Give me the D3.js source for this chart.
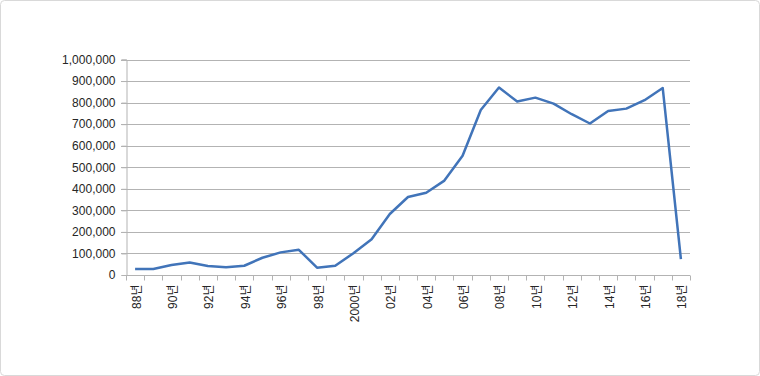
<!DOCTYPE html>
<html><head><meta charset="utf-8">
<script src="https://cdn.jsdelivr.net/npm/d3@7"></script>
<style>body{margin:0;background:#fff}svg{display:block}</style>
</head><body>
<svg id="c" width="760" height="376"></svg>
<script>
const years = ["88년","89년","90년","91년","92년","93년","94년","95년","96년","97년","98년","99년","2000년","01년","02년","03년","04년","05년","06년","07년","08년","09년","10년","11년","12년","13년","14년","15년","16년","17년","18년"];
const values = [28000,28000,46000,58000,42000,36000,43000,80000,105000,117000,34000,43000,101000,166000,283000,362000,382000,438000,553000,766000,870000,805000,823000,795000,746000,703000,761000,772000,811000,868000,74000];
const yTicks = [0,100000,200000,300000,400000,500000,600000,700000,800000,900000,1000000];

const svg = d3.select("#c");
svg.append("rect").attr("x",0.5).attr("y",0.5).attr("width",759).attr("height",375)
  .attr("rx",4).attr("fill","#fff").attr("stroke","#d9d9d9");

const L=126, R=690, T=59.5, B=275;
const x = d3.scaleBand().domain(years).range([L,R]);
const y = d3.scaleLinear().domain([0,1000000]).range([B,T]);
const FONT = "'Liberation Sans', Arial, 'Noto Sans CJK KR', sans-serif";

svg.append("g").selectAll("line").data(yTicks.slice(1)).join("line")
  .attr("x1",L-5).attr("x2",R).attr("y1",d=>Math.round(y(d))+0.5).attr("y2",d=>Math.round(y(d))+0.5)
  .attr("stroke","#b3b3b3").attr("stroke-width",1);

const yAxis = d3.axisLeft(y).tickValues(yTicks).tickSize(5).tickPadding(6).tickFormat(d3.format(","));
const gy = svg.append("g").attr("transform",`translate(${L+0.5},0)`).call(yAxis);
gy.select(".domain").attr("stroke","#b3b3b3");
gy.selectAll(".tick line").attr("stroke","#b3b3b3");
gy.selectAll(".tick text").attr("font-family",FONT).attr("font-size",12).attr("fill","#262626");

const gx = svg.append("g").attr("transform",`translate(0,${Math.round(B)+0.5})`);
gx.append("line").attr("x1",L).attr("x2",R).attr("stroke","#b3b3b3");
const bounds = years.map(d=>x(d)).concat([x(years[years.length-1])+x.bandwidth()]);
gx.selectAll("line.tk").data(bounds).join("line").attr("class","tk")
  .attr("x1",d=>Math.round(d)+0.5).attr("x2",d=>Math.round(d)+0.5).attr("y1",0).attr("y2",5).attr("stroke","#b3b3b3");
gx.selectAll("text").data(years.filter((d,i)=>i%2===0)).join("text")
  .attr("transform",d=>`translate(${x(d)+x.bandwidth()/2+5.5},9) rotate(-90)`)
  .attr("text-anchor","end")
  .attr("font-family",FONT).attr("font-size",12).attr("fill","#262626")
  .text(d=>d);

const line = d3.line().x((d,i)=>x(years[i])+x.bandwidth()/2).y(d=>y(d));
svg.append("path").datum(values).attr("d",line).attr("fill","none")
  .attr("stroke","#4174b9").attr("stroke-width",2.5).attr("stroke-linejoin","round");
</script>
</body></html>
